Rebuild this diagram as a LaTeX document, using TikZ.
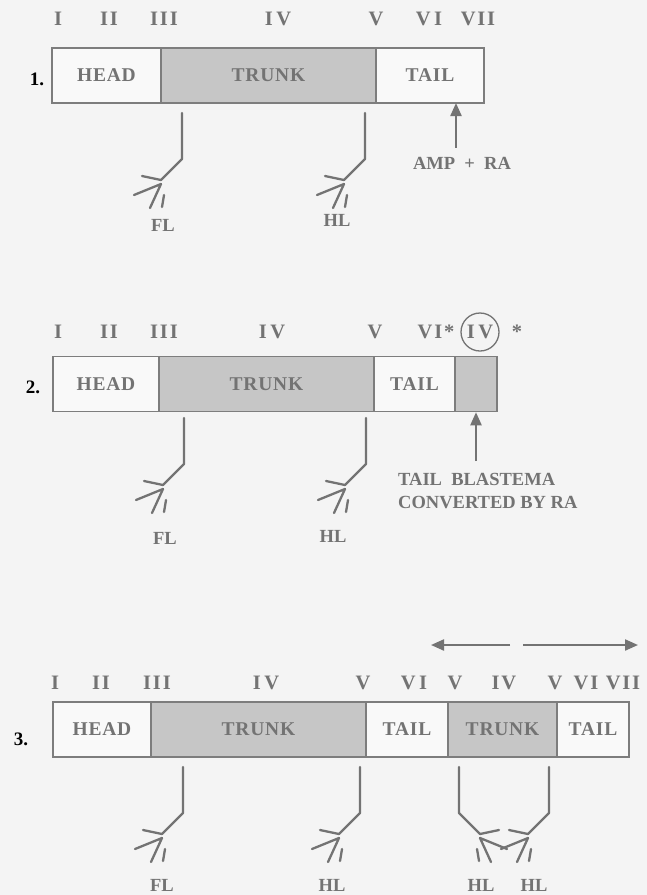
\documentclass[tikz,border=0pt]{standalone}
\usepackage{fontspec}
\setmainfont{Liberation Serif}
\usetikzlibrary{arrows.meta,positioning,calc}

\definecolor{pagebg}{RGB}{244,244,244}
\definecolor{inkgray}{RGB}{115,115,115}
\definecolor{boxline}{RGB}{125,125,125}
\definecolor{lightfill}{RGB}{249,249,249}
\definecolor{darkfill}{RGB}{198,198,198}

\tikzset{
  seg/.style={draw=boxline, line width=1.5pt, minimum height=55pt, inner sep=0pt,
    text=inkgray, font=\fontsize{19.5}{20}\selectfont\bfseries\addfontfeature{LetterSpace=4}},
  lightseg/.style={seg, fill=lightfill},
  darkseg/.style={seg, fill=darkfill},
  numeral/.style={text=inkgray, font=\fontsize{20.5}{21}\selectfont\bfseries\addfontfeature{LetterSpace=9}, inner sep=0pt},
  rowno/.style={font=\fontsize{19}{19}\selectfont\bfseries, inner sep=0pt},
  note/.style={text=inkgray, font=\fontsize{18.5}{23}\selectfont\bfseries, inner sep=0pt, align=left},
  limbline/.style={draw=inkgray, line width=2.3pt, line cap=round, line join=round},
  pointer/.style={draw=inkgray, line width=2.2pt, -{Triangle[length=13pt,width=11pt]}},
  limb/.pic={
    \draw[limbline] (0,0) -- (0,46) -- (-21,67) -- (-40,63);
    \draw[limbline] (-48,82) -- (-21,71) -- (-32,95);
    \draw[limbline] (-18,82) -- (-20,94);
  }
}

\begin{document}
\begin{tikzpicture}[x=1pt, y=-1pt]
\useasboundingbox (0,0) rectangle (647,895);
\fill[pagebg] (0,0) rectangle (647,895);

% 1. amputated tail
\foreach \x/\t in {58/I, 109/II, 164/III, 278/{I\,V}, 376/V, 429/{V\,I}, 478/VII}
  \node[numeral] (ra\x) at (\x,19) {\t};
\node[rowno] (one) at (37,79) {1.};
\node[lightseg, minimum width=109pt] (head1) at (106.5,75.5) {HEAD};
\node[darkseg, minimum width=215pt] (trunk1) at (268.5,75.5) {TRUNK};
\node[lightseg, minimum width=108pt] (tail1) at (430,75.5) {TAIL};
\pic at (182,113) {limb};
\pic at (365,113) {limb};
\node[note] (fl1) at (163,225) {FL};
\node[note] (hl1) at (337,220) {HL};
\node[note] (amp) at (462,163) {AMP~~+~~RA};
\coordinate (amptip) at (456,103);
\draw[pointer] ($(amp.north -| amptip)+(0,-9)$) -- (amptip);

% 2. blastema with RA
\foreach \x/\t in {58/I, 109/II, 164/III, 272/{I\,V}, 375/V, 436/{VI*}, 517/*}
  \node[numeral] (rb\x) at (\x,332) {\t};
\node[numeral, circle, draw=inkgray, line width=1.3pt, inner sep=0pt, minimum size=38pt] (ring) at (480,332) {I\,V};
\node[rowno] (two) at (33,387) {2.};
\node[lightseg, minimum width=106pt] (head2) at (106,384) {HEAD};
\node[darkseg, minimum width=215pt] (trunk2) at (266.5,384) {TRUNK};
\node[lightseg, minimum width=81pt] (tail2) at (414.5,384) {TAIL};
\node[darkseg, minimum width=42pt] (blast2) at (476,384) {};
\pic at (184,418) {limb};
\pic at (366,418) {limb};
\node[note] (fl2) at (165,538) {FL};
\node[note] (hl2) at (333,536) {HL};
\node[note, anchor=west] (conv) at (398,491) {TAIL~~BLASTEMA\\CONVERTED BY RA};
\draw[pointer] ($(conv.north -| blast2.south)+(0,-12)$) -- (blast2.south);

% 3. duplicated trunk
\coordinate (spreadL) at (431,645);
\coordinate (spreadA) at (510,645);
\coordinate (spreadB) at (523,645);
\coordinate (spreadR) at (638,645);
\draw[pointer] (spreadA) -- (spreadL);
\draw[pointer] (spreadB) -- (spreadR);
\foreach \x/\t in {55/I, 101/II, 157/III, 266/{I\,V}, 363/V, 414/{V\,I}, 455/V, 504/IV, 555/V, 586/VI, 623/VII}
  \node[numeral] (rc\x) at (\x,683) {\t};
\node[rowno] (three) at (21,739) {3.};
\node[lightseg, minimum width=98pt] (head3) at (102,729.5) {HEAD};
\node[darkseg, minimum width=215pt] (trunk3) at (258.5,729.5) {TRUNK};
\node[lightseg, minimum width=82pt] (tail3) at (407,729.5) {TAIL};
\node[darkseg, minimum width=109pt] (trunk3b) at (502.5,729.5) {TRUNK};
\node[lightseg, minimum width=72pt] (tail3b) at (593,729.5) {TAIL};
\pic at (183,767) {limb};
\pic at (360,767) {limb};
\pic[xscale=-1] at (459,767) {limb};
\pic at (549,767) {limb};
\node[note] (fl3) at (162,885) {FL};
\node[note] (hl3) at (332,885) {HL};
\node[note] (hl3b) at (481,885) {HL};
\node[note] (hl3c) at (534,885) {HL};
\end{tikzpicture}
\end{document}
